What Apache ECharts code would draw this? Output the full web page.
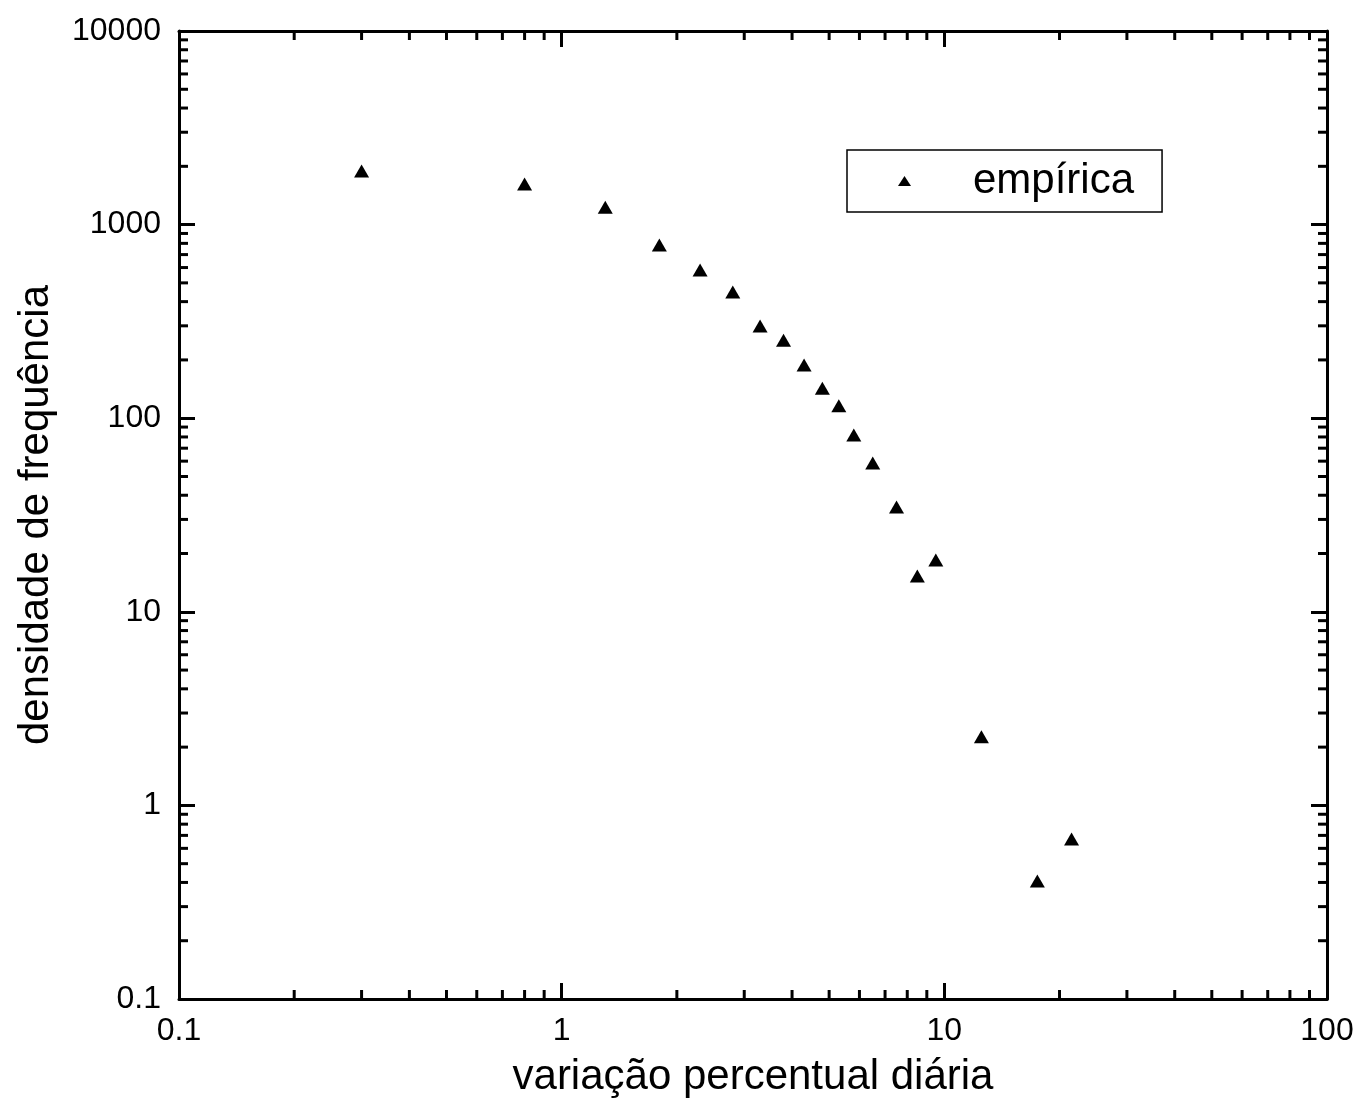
<!DOCTYPE html>
<html>
<head>
<meta charset="utf-8">
<script src="https://cdn.jsdelivr.net/npm/echarts@6/dist/echarts.min.js"></script>
<style>
  html, body { margin: 0; padding: 0; background: #fff; }
  #chart { width: 1358px; height: 1118px; }
</style>
</head>
<body>
<div id="chart"></div>
<script>
// Data
const xValues = [0.3, 0.8, 1.3, 1.8, 2.3, 2.8, 3.3, 3.8, 4.3, 4.8, 5.3, 5.8, 6.5, 7.5, 8.5, 9.5, 12.5, 17.5, 21.5];
const yValues = [1890, 1620, 1230, 785, 583, 449, 299, 253, 188, 143, 116, 82, 58.7, 34.8, 15.3, 18.5, 2.26, 0.407, 0.671];
const seriesName = 'empírica';
const xTitle = 'variação percentual diária';
const yTitle = 'densidade de frequência';
// minor tick positions of the log axes
const minorX = [0.2, 0.3, 0.4, 0.5, 0.6, 0.7, 0.8, 0.9, 2, 3, 4, 5, 6, 7, 8, 9, 20, 30, 40, 50, 60, 70, 80, 90];
const minorY = [0.2, 0.3, 0.4, 0.5, 0.6, 0.7, 0.8, 0.9, 2, 3, 4, 5, 6, 7, 8, 9, 20, 30, 40, 50, 60, 70, 80, 90,
                200, 300, 400, 500, 600, 700, 800, 900, 2000, 3000, 4000, 5000, 6000, 7000, 8000, 9000];

const FONT = "'Liberation Sans', Arial, sans-serif";
const points = xValues.map((x, i) => [x, yValues[i]]);

const chart = echarts.init(document.getElementById('chart'), null, { renderer: 'canvas' });

const lineStyle = { color: '#000', width: 3 };
const fmt = v => String(+(+v).toPrecision(6));
const baseX = {
  type: 'log', logBase: 10, min: 0.1, max: 100,
  axisLine: { show: true, lineStyle: lineStyle },
  axisTick: { show: true, inside: true, length: 16, lineStyle: lineStyle },
  splitLine: { show: false },
  minorTick: { show: false }
};
const baseY = {
  type: 'log', logBase: 10, min: 0.1, max: 10000,
  axisLine: { show: true, lineStyle: lineStyle },
  axisTick: { show: true, inside: true, length: 16, lineStyle: lineStyle },
  splitLine: { show: false },
  minorTick: { show: false }
};

const MINOR = 9;
function minorXRender(params, api) {
  const cs = params.coordSys;
  const x = api.coord([api.value(0), 1])[0];
  const b = cs.y + cs.height, t = cs.y;
  return { type: 'group', children: [
    { type: 'line', shape: { x1: x, y1: b, x2: x, y2: b - MINOR }, style: { stroke: '#000', lineWidth: 3 } },
    { type: 'line', shape: { x1: x, y1: t, x2: x, y2: t + MINOR }, style: { stroke: '#000', lineWidth: 3 } }
  ]};
}
function minorYRender(params, api) {
  const cs = params.coordSys;
  const y = api.coord([1, api.value(1)])[1];
  const l = cs.x, r = cs.x + cs.width;
  return { type: 'group', children: [
    { type: 'line', shape: { x1: l, y1: y, x2: l + MINOR, y2: y }, style: { stroke: '#000', lineWidth: 3 } },
    { type: 'line', shape: { x1: r, y1: y, x2: r - MINOR, y2: y }, style: { stroke: '#000', lineWidth: 3 } }
  ]};
}

chart.setOption({
  backgroundColor: '#fff',
  animation: false,
  grid: { left: 179, right: 31, top: 31, bottom: 119, containLabel: false },
  legend: {
    data: [{ name: seriesName, icon: 'triangle' }],
    left: 847, top: 150,
    orient: 'vertical',
    itemWidth: 13, itemHeight: 10,
    padding: [8, 28, 8, 51],
    borderColor: '#000', borderWidth: 1.5, borderRadius: 0,
    backgroundColor: '#fff',
    itemStyle: { color: '#000', opacity: 1 },
    textStyle: { fontFamily: FONT, fontSize: 42, color: '#000', lineHeight: 46, padding: [0, 0, 0, 57] }
  },
  xAxis: [
    Object.assign({}, baseX, {
      position: 'bottom',
      name: xTitle, nameLocation: 'middle', nameGap: 57,
      nameTextStyle: { fontFamily: FONT, fontSize: 42, color: '#000' },
      axisLabel: { show: true, margin: 16, fontFamily: FONT, fontSize: 32, color: '#000', formatter: fmt }
    }),
    Object.assign({}, baseX, { position: 'top', axisLabel: { show: false } })
  ],
  yAxis: [
    Object.assign({}, baseY, {
      position: 'left',
      name: yTitle, nameLocation: 'middle', nameGap: 122, nameRotate: 90,
      nameTextStyle: { fontFamily: FONT, fontSize: 42, color: '#000' },
      axisLabel: { show: true, margin: 18, fontFamily: FONT, fontSize: 32, color: '#000', formatter: fmt }
    }),
    Object.assign({}, baseY, { position: 'right', axisLabel: { show: false } })
  ],
  series: [
    {
      name: seriesName, type: 'scatter', data: points,
      symbol: 'triangle', symbolSize: [15, 13],
      itemStyle: { color: '#000', opacity: 1 },
      xAxisIndex: 0, yAxisIndex: 0, z: 10
    },
    {
      type: 'custom', name: 'minorX', data: minorX.map(v => [v, 1]),
      renderItem: minorXRender, silent: true, clip: false,
      xAxisIndex: 0, yAxisIndex: 0, z: 5
    },
    {
      type: 'custom', name: 'minorY', data: minorY.map(v => [1, v]),
      renderItem: minorYRender, silent: true, clip: false,
      xAxisIndex: 0, yAxisIndex: 0, z: 5
    }
  ]
});
</script>
</body>
</html>
